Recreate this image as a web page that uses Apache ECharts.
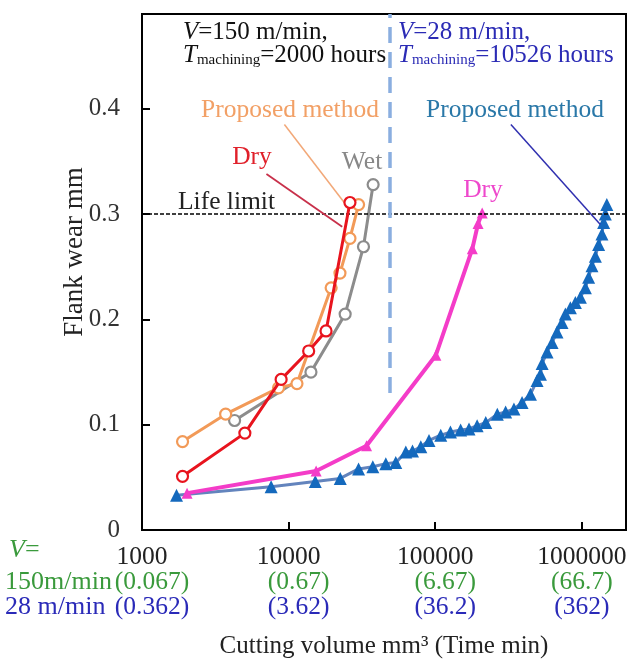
<!DOCTYPE html>
<html>
<head>
<meta charset="utf-8">
<script src="https://cdn.jsdelivr.net/npm/echarts@6/dist/echarts.min.js"></script>
<style>
  html, body { margin: 0; padding: 0; background: #fff; }
  #chart { width: 627px; height: 660px; }
</style>
</head>
<body>
<div id="chart"></div>
<script>
// Tick labels on the cutting-volume axis, with the matching machining time (min) at each cutting speed
const tickValues = [1000, 10000, 100000, 1000000];
const time150 = ['0.067', '0.67', '6.67', '66.7'];
const time28 = ['0.362', '3.62', '36.2', '362'];

// V = 150 m/min
const wetVolume = [4280, 14200, 24300, 32400, 37700];
const wetWear = [0.104, 0.150, 0.205, 0.269, 0.328];

const dry150Volume = [1890, 5030, 8890, 13700, 18000, 26200];
const dry150Wear = [0.051, 0.092, 0.143, 0.170, 0.189, 0.311];

const proposed150Volume = [1890, 3720, 8530, 11400, 19500, 22400, 26200, 30000];
const proposed150Wear = [0.084, 0.110, 0.135, 0.139, 0.230, 0.244, 0.277, 0.309];

// V = 28 m/min
const dry28Volume = [2030, 15400, 34000, 101000, 179000, 196000, 209000];
const dry28Wear = [0.035, 0.056, 0.080, 0.166, 0.267, 0.291, 0.301];

const proposed28Volume = [1720, 7600, 15200, 22500, 30000, 37500, 46000, 53800, 63000, 70000,
  79700, 90700, 109000, 127000, 149000, 170000, 193000, 221000, 265000, 302000,
  344000, 391000, 446000, 495000, 522000, 536000, 579000, 626000, 677000, 732000,
  772000, 835000, 903000, 977000, 1057000, 1112000, 1172000, 1236000, 1301000, 1371000,
  1407000, 1445000, 1480000];
const proposed28Wear = [0.033, 0.041, 0.046, 0.049, 0.058, 0.060, 0.063, 0.064, 0.074, 0.075,
  0.079, 0.085, 0.090, 0.093, 0.095, 0.096, 0.099, 0.102, 0.110, 0.112,
  0.115, 0.121, 0.129, 0.142, 0.148, 0.158, 0.169, 0.178, 0.188, 0.197,
  0.205, 0.211, 0.216, 0.221, 0.230, 0.240, 0.251, 0.260, 0.271, 0.281,
  0.292, 0.300, 0.309];

const lifeLimit = 0.3;
const speedDivider = 49000;

const SERIF = '"Liberation Serif", "Times New Roman", serif';
const pairs = (xs, ys) => xs.map((x, i) => [x, ys[i]]);

const chart = echarts.init(document.getElementById('chart'));

function circleSeries(name, xs, ys, color, z) {
  return {
    name, type: 'line', z,
    data: pairs(xs, ys),
    symbol: 'circle', symbolSize: 11,
    lineStyle: { color, width: 3 },
    itemStyle: { color: '#fff', borderColor: color, borderWidth: 2.2 }
  };
}

const GREEN = '#3a9a3c';
const BLUE_TXT = '#2a2ab8';
const tickRow = (extra) => Object.assign({ fontFamily: SERIF, fontSize: 25.5, lineHeight: 25 }, extra);

const option = {
  animation: false,
  backgroundColor: '#fff',
  grid: {
    left: 142, top: 14, right: 1, bottom: 130,
    outerBoundsMode: 'none', containLabel: false,
    show: true, borderColor: '#000', borderWidth: 2
  },
  xAxis: {
    type: 'log', logBase: 10, min: 1000, max: 2000000,
    axisLine: { lineStyle: { color: '#000', width: 2 } },
    axisTick: { inside: true, length: 8, lineStyle: { color: '#000', width: 2 } },
    minorTick: { show: false },
    splitLine: { show: false },
    axisLabel: {
      margin: 15,
      fontFamily: SERIF, fontSize: 25.5, color: '#222',
      formatter: (v) => {
        const i = tickValues.findIndex(t => Math.abs(t - v) / t < 1e-6);
        if (i < 0) return '';
        const s = i < tickValues.length - 1 ? 's' : '';
        return '{v|' + tickValues[i] + '}\n{g' + s + '|(' + time150[i] + ')}\n{b' + s + '|(' + time28[i] + ')}';
      },
      rich: {
        v: tickRow({ color: '#222' }),
        g: tickRow({ color: GREEN }),
        b: tickRow({ color: BLUE_TXT }),
        gs: tickRow({ color: GREEN, padding: [0, 0, 0, 20] }),
        bs: tickRow({ color: BLUE_TXT, padding: [0, 0, 0, 20] })
      }
    },
    name: 'Cutting volume mm\u00B3 (Time min)',
    nameLocation: 'middle', nameGap: 104,
    nameTextStyle: { fontFamily: SERIF, fontSize: 25, color: '#222' }
  },
  yAxis: {
    type: 'value', min: 0, max: 0.49, interval: 0.1,
    axisLine: { show: true, lineStyle: { color: '#000', width: 2 } },
    axisTick: { show: true, inside: true, length: 8, lineStyle: { color: '#000', width: 2 } },
    splitLine: { show: false },
    axisLabel: {
      margin: 22, showMaxLabel: false,
      fontFamily: SERIF, fontSize: 25, color: '#333',
      formatter: (v) => (v === 0 ? '0' : v.toFixed(1))
    }
  },
  series: [
    {
      name: 'Proposed method (28 m/min)', type: 'line', z: 2,
      data: pairs(proposed28Volume, proposed28Wear),
      symbol: 'triangle', symbolSize: 13,
      lineStyle: { color: '#6384bd', width: 3 },
      itemStyle: { color: '#1469bd' },
      markLine: {
        silent: true, symbol: ['none', 'none'], label: { show: false },
        data: [
          [{ coord: [1000, lifeLimit] }, { coord: [2000000, lifeLimit] }],
          [{ coord: [speedDivider, 0.13], lineStyle: { color: '#8aaee0', width: 3.5, type: [16, 9] } },
           { coord: [speedDivider, 0.49] }],
          [{ coord: [9360, 0.385], lineStyle: { color: '#f2a878', width: 1.5, type: 'solid' } },
           { coord: [25500, 0.306] }],
          [{ coord: [7060, 0.338], lineStyle: { color: '#c8304a', width: 1.8, type: 'solid' } },
           { coord: [23200, 0.288] }],
          [{ coord: [328000, 0.385], lineStyle: { color: '#3030b0', width: 1.5, type: 'solid' } },
           { coord: [1336000, 0.290] }]
        ],
        lineStyle: { color: '#000', width: 1.5, type: [4, 2] }
      }
    },
    {
      name: 'Dry (28 m/min)', type: 'line', z: 3,
      data: pairs(dry28Volume, dry28Wear),
      symbol: 'triangle', symbolSize: 11,
      lineStyle: { color: '#f43cc8', width: 4 },
      itemStyle: { color: '#f43cc8' }
    },
    circleSeries('Wet', wetVolume, wetWear, '#8c8c8c', 4),
    circleSeries('Proposed method (150 m/min)', proposed150Volume, proposed150Wear, '#f29a58', 5),
    circleSeries('Dry (150 m/min)', dry150Volume, dry150Wear, '#e8141e', 6)
  ],
  graphic: [
    // condition headers
    { type: 'text', x: 183, y: 32, style: { text: '{i|V}=150 m/min,', verticalAlign: 'middle', fill: '#111', font: '25px ' + SERIF,
      rich: { i: { fontStyle: 'italic', fontFamily: SERIF, fontSize: 25, fill: '#111' } } } },
    { type: 'text', x: 183, y: 55, style: { text: '{i|T}{s|machining}=2000 hours', verticalAlign: 'middle', fill: '#111', font: '25px ' + SERIF,
      rich: { i: { fontStyle: 'italic', fontFamily: SERIF, fontSize: 25, fill: '#111' }, s: { fontFamily: SERIF, fontSize: 15, padding: [11, 0, 0, 0], fill: '#111' } } } },
    { type: 'text', x: 398, y: 32, style: { text: '{i|V}=28 m/min,', verticalAlign: 'middle', fill: '#2b2bb5', font: '25px ' + SERIF,
      rich: { i: { fontStyle: 'italic', fontFamily: SERIF, fontSize: 25, fill: '#2b2bb5' } } } },
    { type: 'text', x: 398, y: 55, style: { text: '{i|T}{s|machining}=10526 hours', verticalAlign: 'middle', fill: '#2b2bb5', font: '25px ' + SERIF,
      rich: { i: { fontStyle: 'italic', fontFamily: SERIF, fontSize: 25, fill: '#2b2bb5' }, s: { fontFamily: SERIF, fontSize: 15, padding: [11, 0, 0, 0], fill: '#2b2bb5' } } } },
    // curve labels
    { type: 'text', x: 290, y: 110, style: { text: 'Proposed method', align: 'center', verticalAlign: 'middle', fill: '#f2a066', font: '25.5px ' + SERIF } },
    { type: 'text', x: 252, y: 157, style: { text: 'Dry', align: 'center', verticalAlign: 'middle', fill: '#e0202a', font: '25.5px ' + SERIF } },
    { type: 'text', x: 362, y: 162, style: { text: 'Wet', align: 'center', verticalAlign: 'middle', fill: '#888', font: '25.5px ' + SERIF } },
    { type: 'text', x: 178, y: 202, style: { text: 'Life limit', verticalAlign: 'middle', fill: '#222', font: '25.5px ' + SERIF } },
    { type: 'text', x: 483, y: 190, style: { text: 'Dry', align: 'center', verticalAlign: 'middle', fill: '#ee48cc', font: '25.5px ' + SERIF } },
    { type: 'text', x: 515, y: 110, style: { text: 'Proposed method', align: 'center', verticalAlign: 'middle', fill: '#2a78a8', font: '25.5px ' + SERIF } },
    // y axis title
    { type: 'text', x: 75, y: 252, rotation: Math.PI / 2, style: { text: 'Flank wear mm', align: 'center', verticalAlign: 'middle', fill: '#222', font: '27px ' + SERIF } },
    // speed key for the time rows
    { type: 'text', x: 9, y: 550, style: { text: '{i|V}=', verticalAlign: 'middle', fill: GREEN, font: '26px ' + SERIF,
      rich: { i: { fontStyle: 'italic', fontFamily: SERIF, fontSize: 26, fill: GREEN } } } },
    { type: 'text', x: 5, y: 582, style: { text: '150m/min', verticalAlign: 'middle', fill: GREEN, font: '26px ' + SERIF } },
    { type: 'text', x: 5, y: 607, style: { text: '28 m/min', verticalAlign: 'middle', fill: BLUE_TXT, font: '26px ' + SERIF } }
  ]
};

chart.setOption(option);
</script>
</body>
</html>
